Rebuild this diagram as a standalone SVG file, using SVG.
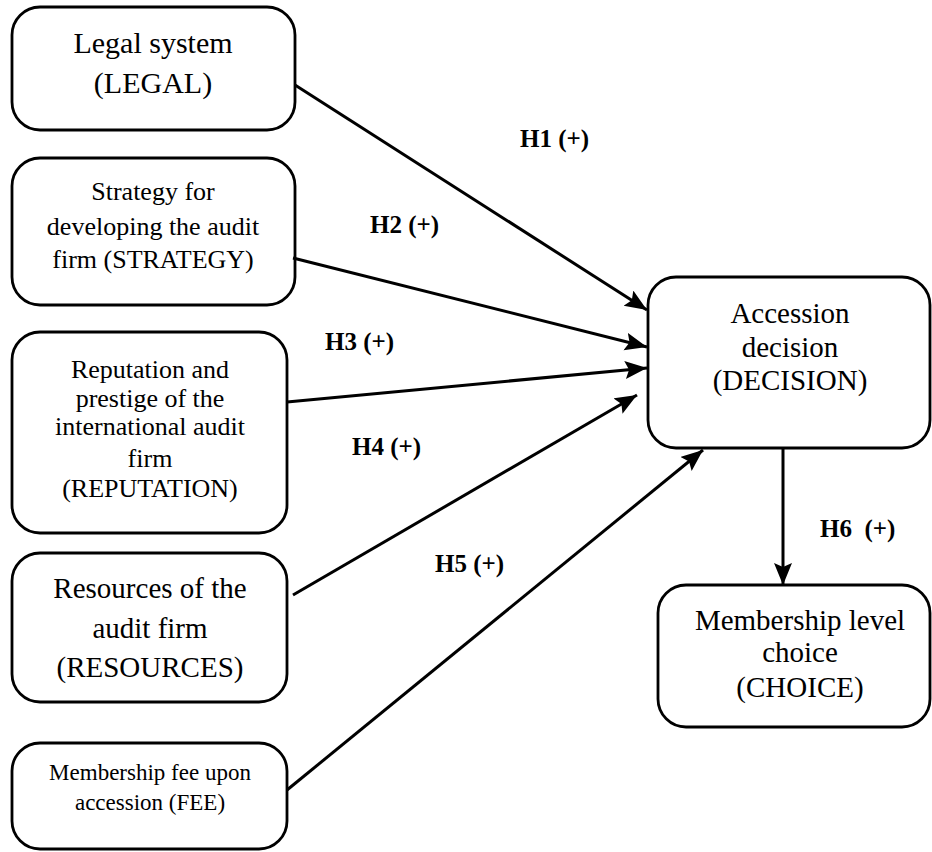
<svg xmlns="http://www.w3.org/2000/svg" width="932" height="852" viewBox="0 0 932 852">
<style>
.box{fill:#fff;stroke:#000;stroke-width:2.8}
.t{font-family:"Liberation Serif","Times New Roman",serif;fill:#000;text-anchor:middle}
.lbl{font-family:"Liberation Serif","Times New Roman",serif;font-weight:bold;font-size:25px;fill:#000;white-space:pre}
.c{stroke:#000;stroke-width:3;fill:none;marker-end:url(#ah)}
</style>
<defs>
<marker id="ah" markerUnits="userSpaceOnUse" markerWidth="24" markerHeight="20" refX="22" refY="9" orient="auto">
<path d="M0,0 L22,9 L0,18 L4,9 Z" fill="#000"/>
</marker>
</defs>
<rect width="932" height="852" fill="#fff"/>
<g id="legal">
<rect class="box" x="12" y="7" width="283" height="123" rx="28"/>
<text class="t" font-size="30" x="153" y="53">Legal system</text>
<text class="t" font-size="30" x="153" y="93">(LEGAL)</text>
</g>
<g id="strategy">
<rect class="box" x="12" y="158" width="283" height="147" rx="28"/>
<text class="t" font-size="26" x="153" y="200">Strategy for</text>
<text class="t" font-size="26" x="153" y="235">developing the audit</text>
<text class="t" font-size="26" x="153" y="268">firm (STRATEGY)</text>
</g>
<g id="reputation">
<rect class="box" x="12" y="332" width="275" height="201" rx="28"/>
<text class="t" font-size="26" x="150" y="378">Reputation and</text>
<text class="t" font-size="26" x="150" y="407">prestige of the</text>
<text class="t" font-size="26" x="150" y="435">international audit</text>
<text class="t" font-size="26" x="150" y="467">firm</text>
<text class="t" font-size="26" x="150" y="497">(REPUTATION)</text>
</g>
<g id="resources">
<rect class="box" x="12" y="553" width="275" height="149" rx="28"/>
<text class="t" font-size="29" x="150" y="598">Resources of the</text>
<text class="t" font-size="29" x="150" y="638">audit firm</text>
<text class="t" font-size="29" x="150" y="677">(RESOURCES)</text>
</g>
<g id="fee">
<rect class="box" x="12" y="743" width="275" height="106" rx="28"/>
<text class="t" font-size="23" x="150" y="780">Membership fee upon</text>
<text class="t" font-size="23" x="150" y="810">accession (FEE)</text>
</g>
<g id="decision">
<rect class="box" x="648" y="277" width="282" height="171" rx="28"/>
<text class="t" font-size="29" x="790" y="323">Accession</text>
<text class="t" font-size="29" x="790" y="357">decision</text>
<text class="t" font-size="29" x="790" y="390">(DECISION)</text>
</g>
<g id="choice">
<rect class="box" x="658" y="585" width="272" height="142" rx="28"/>
<text class="t" font-size="29" x="800" y="630">Membership level</text>
<text class="t" font-size="29" x="800" y="662">choice</text>
<text class="t" font-size="29" x="800" y="697">(CHOICE)</text>
</g>
<g id="connectors">
<line class="c" x1="295" y1="85" x2="647" y2="310"/>
<line class="c" x1="293" y1="258" x2="647" y2="347"/>
<line class="c" x1="287" y1="402" x2="647" y2="368"/>
<line class="c" x1="293" y1="595" x2="637" y2="395"/>
<line class="c" x1="287" y1="790" x2="703" y2="450"/>
<line class="c" x1="783" y1="448" x2="783" y2="585"/>
<text class="lbl" x="520" y="147">H1 (+)</text>
<text class="lbl" x="370" y="233">H2 (+)</text>
<text class="lbl" x="325" y="350">H3 (+)</text>
<text class="lbl" x="352" y="455">H4 (+)</text>
<text class="lbl" x="435" y="572">H5 (+)</text>
<text class="lbl" x="820" y="537">H6  (+)</text>
</g>
</svg>
